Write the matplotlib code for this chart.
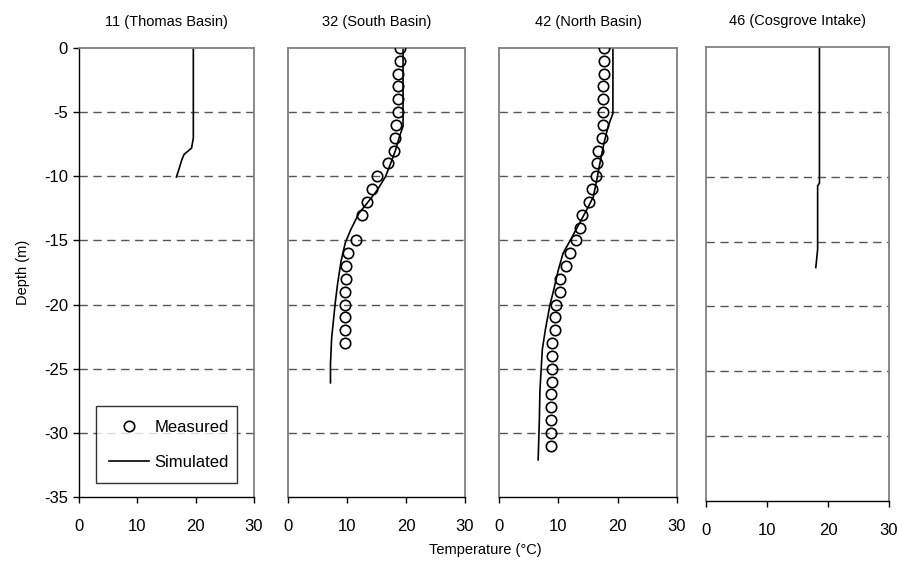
import numpy as np
import matplotlib
matplotlib.use("Agg")
import matplotlib.pyplot as plt

plt.rcParams['font.family'] = ['Liberation Sans', 'DejaVu Sans']
plt.rcParams['axes.unicode_minus'] = False

# station titles
titles = ["11 (Thomas Basin)", "32 (South Basin)", "42 (North Basin)", "46 (Cosgrove Intake)"]

# 11 Thomas Basin - simulated only
thomas_sim_t = [19.6, 19.6, 19.6, 19.3, 18.0, 17.6, 17.1, 16.7]
thomas_sim_d = [0, -5, -7.0, -7.8, -8.3, -8.75, -9.5, -10.05]

# 32 South Basin
south_meas_t = [18.9, 18.9, 18.6, 18.6, 18.6, 18.6, 18.3, 18.2, 18.0, 16.9, 15.0, 14.3,
                13.4, 12.6, 11.5, 10.2, 9.8, 9.8, 9.6, 9.6, 9.6, 9.6, 9.6]
south_meas_d = [0, -1, -2, -3, -4, -5, -6, -7, -8, -9, -10, -11,
                -12, -13, -15, -16, -17, -18, -19, -20, -21, -22, -23]
south_sim_t = [19.5, 19.5, 18.9, 18.2, 17.4, 16.5, 15.1, 13.4, 12.0, 10.6, 9.7, 9.0,
               8.4, 8.0, 7.4, 7.2, 7.2]
south_sim_d = [0, -6.1, -6.9, -8.0, -9.0, -10.05, -11.1, -12.1, -12.9, -14.2, -15.2, -16.6,
               -18.4, -19.9, -22.6, -24.6, -26.1]

# 42 North Basin
north_meas_t = [17.7, 17.7, 17.7, 17.5, 17.5, 17.5, 17.5, 17.4, 16.7, 16.6, 16.4, 15.6,
                15.1, 14.0, 13.7, 13.0, 12.0, 11.3, 10.2, 10.2, 9.6, 9.4, 9.4, 9.0,
                9.0, 9.0, 9.0, 8.7, 8.7, 8.7, 8.7, 8.7]
north_meas_d = [0, -1, -2, -3, -4, -5, -6, -7, -8, -9, -10, -11,
                -12, -13, -14, -15, -16, -17, -18, -19, -20, -21, -22, -23,
                -24, -25, -26, -27, -28, -29, -30, -31]
north_sim_t = [19.2, 19.2, 18.4, 17.7, 17.0, 16.6, 15.9, 14.8, 13.4, 12.0, 10.8, 10.0,
               9.2, 8.6, 7.8, 7.3, 7.1, 6.9, 6.8, 6.6]
north_sim_d = [0, -5.1, -6.1, -7.4, -9.0, -10.0, -11.6, -12.6, -13.8, -15.0, -16.0, -17.3,
               -18.9, -20.0, -22.0, -23.5, -25.1, -26.7, -29.0, -32.1]

# 46 Cosgrove Intake - simulated only
cosgrove_sim_t = [18.6, 18.6, 18.3, 18.3, 18.0]
cosgrove_sim_d = [0, -10.5, -10.7, -15.6, -17.0]

measured = [None, (south_meas_t, south_meas_d), (north_meas_t, north_meas_d), None]
simulated = [(thomas_sim_t, thomas_sim_d), (south_sim_t, south_sim_d),
             (north_sim_t, north_sim_d), (cosgrove_sim_t, cosgrove_sim_d)]

W, H = 898, 561
# pixel boxes (left, right, top, bottom)
boxes = [(79, 254, 48, 497), (288, 465, 48, 497), (499, 677, 48, 497), (706, 889, 47, 501)]

fig = plt.figure(figsize=(W / 100, H / 100), dpi=100)
gray = '#808080'

for i, (l, r, t, b) in enumerate(boxes):
    ax = fig.add_axes([l / W, 1 - b / H, (r - l) / W, (b - t) / H])
    ax.set_xlim(0, 30)
    ax.set_ylim(-35, 0)
    ax.set_xticks([0, 10, 20, 30])
    ax.set_yticks(np.arange(-35, 1, 5))
    for y in range(-30, 0, 5):
        ax.axhline(y, color='#555555', lw=1.0, dashes=(6, 4), zorder=1)
    for s in ['top', 'right', 'left']:
        ax.spines[s].set_color(gray)
        ax.spines[s].set_linewidth(1.3)
    ax.spines['bottom'].set_color('black')
    ax.spines['bottom'].set_linewidth(1.0)
    ax.tick_params(axis='x', direction='out', length=4, width=1, labelsize=12, pad=12)
    if i == 0:
        ax.spines['left'].set_color('black')
        ax.spines['left'].set_linewidth(1.0)
        ax.tick_params(axis='y', direction='out', length=4, width=1, labelsize=12, pad=4)
        ax.set_ylabel('Depth (m)', fontsize=10.5, labelpad=10)
    else:
        ax.tick_params(axis='y', left=False, labelleft=False)

    if measured[i] is not None:
        mt, md = measured[i]
        ax.plot(mt, md, 'o', ms=7.5, mfc='none', mec='black', mew=1.2, zorder=3,
                label='Measured')
    st, sd = simulated[i]
    ax.plot(st, sd, color='black', lw=1.2, zorder=2, label='Simulated')
    ax.set_title(titles[i], fontsize=10.5, pad=16)

    if i == 0:
        hm = ax.plot([], [], 'o', ms=7.5, mfc='none', mec='black', mew=1.2)[0]
        hs = ax.plot([], [], color='black', lw=1.2)[0]
        leg = ax.legend([hm, hs], ['Measured', 'Simulated'],
                        bbox_to_anchor=(0.097, 0.031, 0.806, 0.16), mode='expand',
                        loc='lower left', borderaxespad=0, fontsize=12,
                        frameon=True, fancybox=False, edgecolor='black',
                        handlelength=2.4, handletextpad=0.3,
                        labelspacing=1.2, borderpad=0.8)
        leg.get_frame().set_linewidth(1.0)

fig.text(485 / W, 1 - 550 / H, 'Temperature (°C)', ha='center', va='center', fontsize=10.5)

fig.savefig('out.png', dpi=100)
